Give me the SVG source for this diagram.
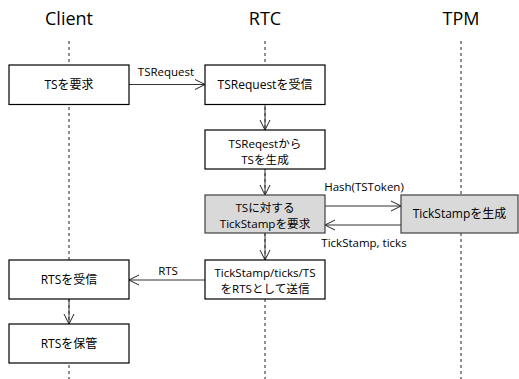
<svg xmlns="http://www.w3.org/2000/svg" width="519" height="379" viewBox="0 0 519 379">
<defs>
<marker id="arr" viewBox="0 0 12 12" refX="11" refY="6" markerWidth="12" markerHeight="12" markerUnits="userSpaceOnUse" orient="auto">
<path d="M1,1 L11,6 L1,11" fill="none" stroke="#222" stroke-width="1"/>
</marker>
<style>
.hdr{font-family:"Open Sans","Noto Sans CJK JP",sans-serif;font-size:18px;fill:#000;text-anchor:middle}
.t{font-family:"Open Sans","Noto Sans CJK JP",sans-serif;font-size:12px;fill:#000;text-anchor:middle}
.t2{font-family:"Open Sans","Noto Sans CJK JP",sans-serif;font-size:11.6px;fill:#000;text-anchor:middle}
.lbl{font-family:"Open Sans","Noto Sans CJK JP",sans-serif;font-size:11.5px;fill:#000;text-anchor:middle}
.life{stroke:#222;stroke-width:1;stroke-dasharray:3,3;fill:none}
.box{fill:#fff;stroke:#000;stroke-width:1.2}
.gbox{fill:#d9d9d9;stroke:#404040;stroke-width:1.2}
.c{stroke:#333;stroke-width:1;fill:none;marker-end:url(#arr)}
</style>
</defs>
<rect width="519" height="379" fill="#fff"/>
<g id="lanes">
<text class="hdr" x="69" y="25">Client</text>
<text class="hdr" x="265" y="25">RTC</text>
<text class="hdr" x="461" y="25">TPM</text>
<line class="life" x1="69" y1="41" x2="69" y2="379"/>
<line class="life" x1="265" y1="41" x2="265" y2="379"/>
<line class="life" x1="461" y1="41" x2="461" y2="379"/>
</g>
<g id="connectors">
<line class="c" x1="129" y1="84.5" x2="205" y2="84.5"/>
<text class="lbl" x="166" y="76">TSRequest</text>
<line class="c" x1="265" y1="104.5" x2="265" y2="130"/>
<line class="c" x1="265" y1="169" x2="265" y2="195"/>
<line class="c" x1="325" y1="206" x2="401" y2="206"/>
<text class="lbl" x="364" y="191">Hash(TSToken)</text>
<line class="c" x1="401" y1="225" x2="325" y2="225"/>
<text class="lbl" x="364" y="247">TickStamp, ticks</text>
<line class="c" x1="265" y1="233" x2="265" y2="260"/>
<line class="c" x1="205" y1="280" x2="129" y2="280"/>
<text class="lbl" x="168" y="275">RTS</text>
<line class="c" x1="69" y1="299" x2="69" y2="324"/>
</g>
<g id="n1"><rect class="box" x="9" y="65" width="120" height="39.5"/><text class="t" x="69" y="89">TSを要求</text></g>
<g id="n2"><rect class="box" x="205" y="65" width="120" height="39.5"/><text class="t" x="265" y="89">TSRequestを受信</text></g>
<g id="n3"><rect class="box" x="205" y="130" width="120" height="39"/><text class="t2" x="265" y="147.5">TSReqestから</text><text class="t2" x="265" y="163.5">TSを生成</text></g>
<g id="n4"><rect class="gbox" x="205" y="195" width="120" height="38"/><text class="t2" x="265" y="211.5">TSに対する</text><text class="t2" x="265" y="227.5">TickStampを要求</text></g>
<g id="n5"><rect class="gbox" x="401" y="195" width="117" height="38"/><text class="t" x="459.5" y="218">TickStampを生成</text></g>
<g id="n6"><rect class="box" x="205" y="260" width="120" height="39"/><text class="t2" x="265" y="276.5">TickStamp/ticks/TS</text><text class="t2" x="265" y="292.5">をRTSとして送信</text></g>
<g id="n7"><rect class="box" x="9" y="260" width="120" height="39"/><text class="t" x="69" y="284">RTSを受信</text></g>
<g id="n8"><rect class="box" x="9" y="324" width="120" height="39"/><text class="t" x="69" y="348">RTSを保管</text></g>
</svg>
